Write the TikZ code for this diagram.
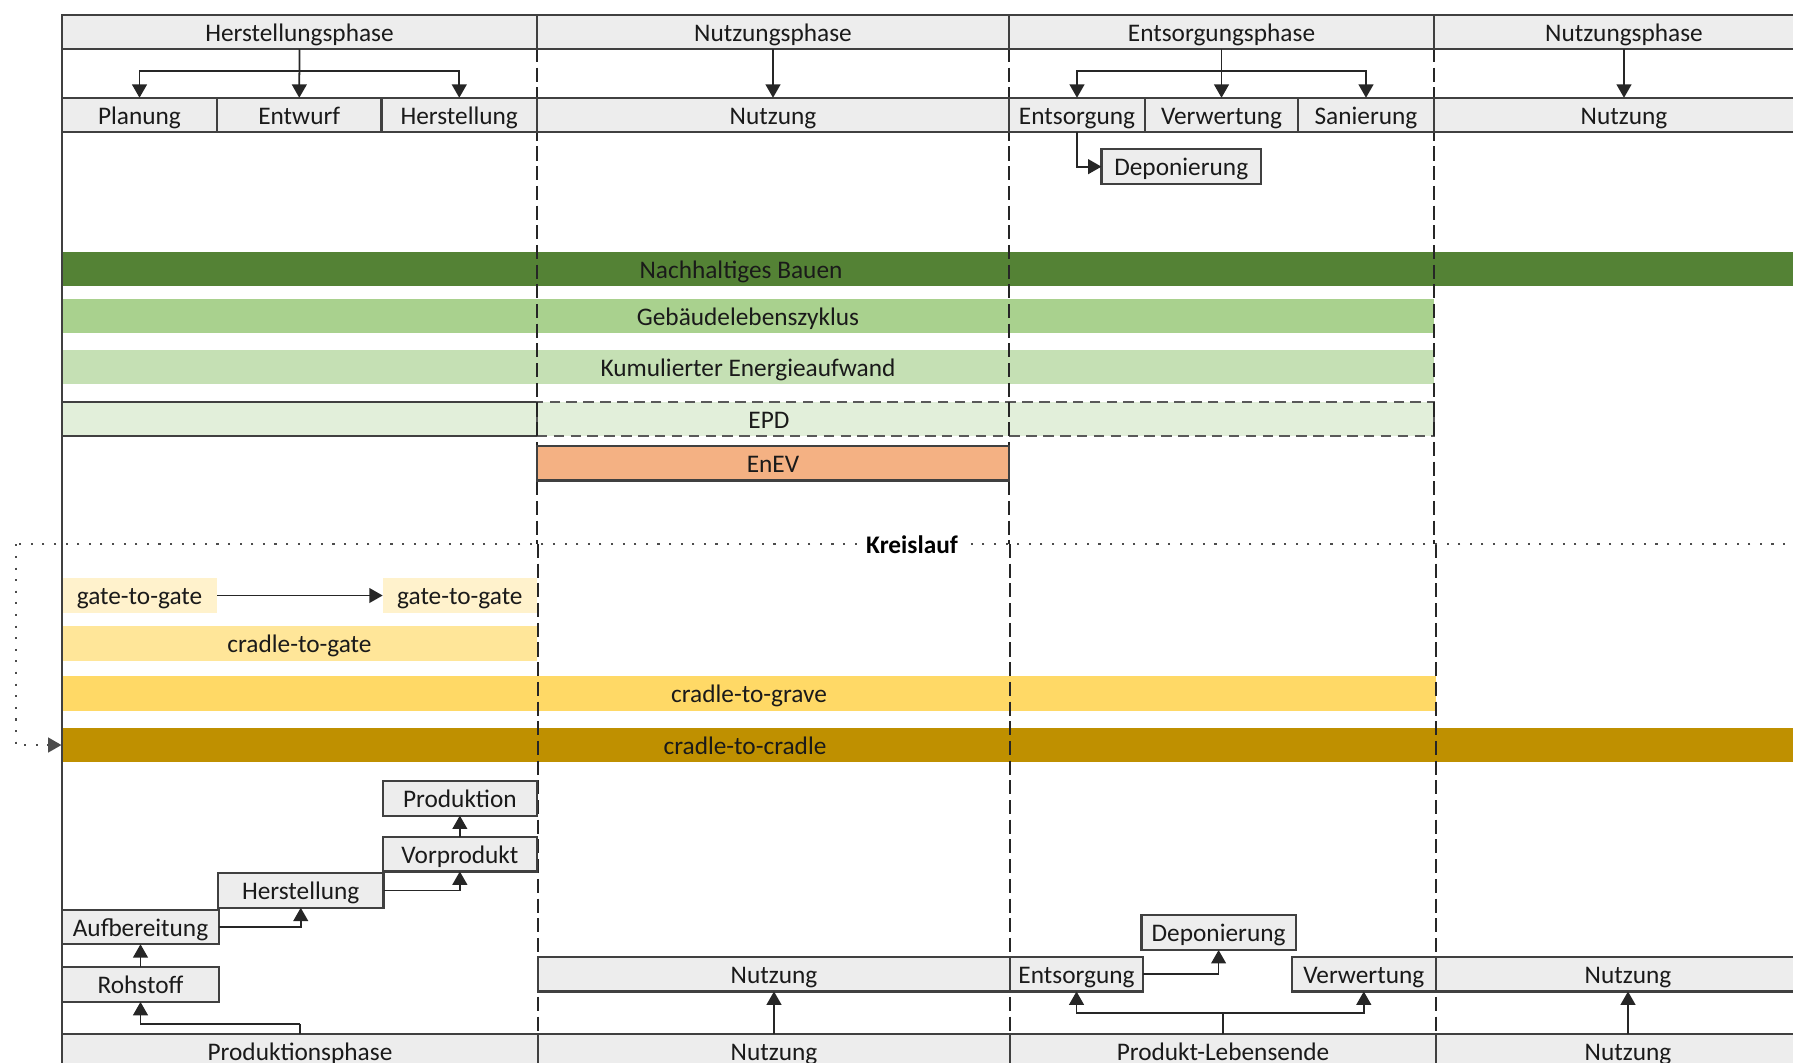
\documentclass[tikz,border=0pt]{standalone}
\usepackage{fontspec}
\setmainfont{Carlito}
\usetikzlibrary{arrows.meta,calc}
\definecolor{boxfill}{RGB}{237,237,237}
\definecolor{boxline}{RGB}{64,64,64}
\definecolor{txt}{RGB}{26,26,26}
\definecolor{nbau}{RGB}{84,130,53}
\definecolor{gebl}{RGB}{169,209,142}
\definecolor{keaf}{RGB}{197,224,180}
\definecolor{epdf}{RGB}{226,239,218}
\definecolor{enevf}{RGB}{244,177,131}
\definecolor{ggf}{RGB}{255,242,204}
\definecolor{cgf}{RGB}{255,230,153}
\definecolor{cgrf}{RGB}{255,217,102}
\definecolor{ccf}{RGB}{191,144,0}
\newcommand\mkbox[7][]{%
  \pgfmathsetmacro\mkbw{(#5-#3)/100}%
  \pgfmathsetmacro\mkbh{(#6-#4)/100}%
  \node[#1, minimum width=\mkbw cm, minimum height=\mkbh cm] (#2) at ({(#3+#5)/2},{(#4+#6)/2}) {#7};}
\tikzset{
  base/.style={inner sep=0pt, outer sep=0pt, text=txt, font=\fontsize{7.2}{8.6}\selectfont, text height=0.75em, text depth=0.23em},
  gbox/.style={base, draw=boxline, fill=boxfill, line width=0.6pt},
  barbox/.style={base, draw=none},
  arr/.style={draw=black!85, line width=0.5pt, -{Triangle[length=3.8pt,width=4.2pt]}},
  coldash/.style={draw=black!85, line width=0.6pt, dash pattern=on 4pt off 1.6pt},
  kdots/.style={draw=black!70, line width=0.6pt, dash pattern=on 0.6pt off 2.7pt},
}
\begin{document}
\begin{tikzpicture}[x=0.01cm,y=-0.01cm]
\useasboundingbox (0,0) rectangle (1793,1062);
% ---------- bars ----------
\mkbox[barbox,fill=nbau]{bauen}{62}{253.3}{1900}{285}{}
\node[base] (bauenT) at (741,269.2) {Nachhaltiges Bauen};
\mkbox[barbox,fill=gebl]{geb}{62}{300}{1434}{332.3}{Gebäudelebenszyklus}
\mkbox[barbox,fill=keaf]{kea}{62}{350.7}{1434}{383.3}{Kumulierter Energieaufwand}
\mkbox[barbox,fill=epdf,draw=boxline,line width=0.6pt]{epdL}{62}{402.3}{537}{435.7}{}
\mkbox[barbox,fill=epdf,draw=black!65,line width=0.6pt,dash pattern=on 3pt off 1.8pt]{epdR}{537}{402.3}{1434}{435.7}{}
\node[base] (epdT) at (769,419) {EPD};
\mkbox[barbox,fill=ggf]{gtgA}{62}{579.3}{217}{611.7}{gate-to-gate}
\mkbox[barbox,fill=ggf]{gtgB}{382.7}{579.3}{537}{611.7}{gate-to-gate}
\mkbox[barbox,fill=cgf]{ctgate}{62}{627.3}{537}{659.3}{cradle-to-gate}
\mkbox[barbox,fill=cgrf]{ctgrave}{62}{677.3}{1436}{710}{cradle-to-grave}
\mkbox[barbox,fill=ccf]{ctc}{62}{729.3}{1900}{760.7}{}
\node[base] (ctcT) at (745,745) {cradle-to-cradle};
% ---------- column lines ----------
\coordinate (cA1) at (537,48); \coordinate (cA2) at (537,544);
\coordinate (cB1) at (1009,48); \coordinate (cB2) at (1009,544);
\coordinate (cC1) at (1434,48); \coordinate (cC2) at (1434,544);
\coordinate (dA1) at (538,544); \coordinate (dA2) at (538,1062);
\coordinate (dB1) at (1010,544); \coordinate (dB2) at (1010,1062);
\coordinate (dC1) at (1436,544); \coordinate (dC2) at (1436,1062);
\draw[coldash] (cA1) -- (cA2); \draw[coldash] (cB1) -- (cB2); \draw[coldash] (cC1) -- (cC2);
\draw[coldash] (dA1) -- (dA2); \draw[coldash] (dB1) -- (dB2); \draw[coldash] (dC1) -- (dC2);
\coordinate (lt) at (62,15); \coordinate (lb) at (62,1062);
\draw[draw=boxline, line width=0.6pt] (lt) -- (lb);
% ---------- EnEV ----------
\mkbox[base,fill=enevf,draw=boxline,line width=0.6pt]{enev}{537}{447.3}{1009}{479.3}{EnEV}
% ---------- Kreislauf ----------
\coordinate (kR) at (1820,544.3);
\coordinate (kL) at (16,544.3);
\draw[kdots] (kR) -- (kL);
\draw[kdots,-{Triangle[length=3.8pt,width=4.2pt]}] (kL) |- (ctc.west);
\node[base, fill=white, inner xsep=1.5pt, inner ysep=1pt, font=\fontsize{7.2}{8.6}\selectfont\bfseries, text=black] (kreis) at (912,544.3) {Kreislauf};
\draw[arr] (gtgA.east) -- (gtgB.west);
% ---------- top header ----------
\mkbox[gbox]{hp}{62}{15.7}{537}{48.3}{Herstellungsphase}
\mkbox[gbox]{np}{537}{15.7}{1009}{48.3}{Nutzungsphase}
\mkbox[gbox]{ep}{1009}{15.7}{1434}{48.3}{Entsorgungsphase}
\mkbox[gbox]{npr}{1434}{15.7}{1814}{48.3}{Nutzungsphase}
\mkbox[gbox]{plan}{62}{98.3}{217}{131.7}{Planung}
\mkbox[gbox]{entw}{217}{98.3}{381.5}{131.7}{Entwurf}
\mkbox[gbox]{herst}{381.5}{98.3}{537}{131.7}{Herstellung}
\mkbox[gbox]{nutz}{537}{98.3}{1009}{131.7}{Nutzung}
\mkbox[gbox]{ents}{1009}{98.3}{1145}{131.7}{Entsorgung}
\mkbox[gbox]{verw}{1145}{98.3}{1298}{131.7}{Verwertung}
\mkbox[gbox]{san}{1298}{98.3}{1434}{131.7}{Sanierung}
\mkbox[gbox]{nutzr}{1434}{98.3}{1814}{131.7}{Nutzung}
\mkbox[gbox]{depo}{1101.5}{150}{1261}{183.3}{Deponierung}
\coordinate (jA) at (299.5,71);
\coordinate (jB) at (1221.5,71);
\draw[arr] (hp.south) -- (entw.north);
\draw[arr] (jA) -| (plan.north);
\draw[arr] (jA) -| (herst.north);
\draw[arr] (np.south) -- (nutz.north);
\draw[arr] (ep.south) -- (verw.north);
\draw[arr] (jB) -| (ents.north);
\draw[arr] (jB) -| (san.north);
\draw[arr] (npr.south) -- (nutzr.north);
\draw[arr] (ents.south) |- (depo.west);
% ---------- bottom ----------
\mkbox[gbox]{prod}{382.7}{781.7}{537}{815}{Produktion}
\mkbox[gbox]{vorp}{382.7}{837.7}{537}{870.7}{Vorprodukt}
\mkbox[gbox]{herstB}{218}{874.3}{383.5}{906.7}{Herstellung}
\mkbox[gbox]{aufb}{62}{910.7}{219}{943.3}{Aufbereitung}
\mkbox[gbox]{roh}{62}{968.3}{219}{1001}{Rohstoff}
\mkbox[gbox]{nutzB}{538}{957.7}{1010}{990.7}{Nutzung}
\mkbox[gbox]{entsB}{1010}{957.7}{1143}{990.7}{Entsorgung}
\mkbox[gbox]{depoB}{1141.5}{915}{1295.7}{950}{Deponierung}
\mkbox[gbox]{verwB}{1291.6}{957.7}{1436}{990.7}{Verwertung}
\mkbox[gbox]{nutzBr}{1436}{957.7}{1820}{990.7}{Nutzung}
\mkbox[gbox]{prph}{62}{1035}{538}{1068}{Produktionsphase}
\mkbox[gbox]{nutzP}{538}{1035}{1010}{1068}{Nutzung}
\mkbox[gbox]{leb}{1010}{1035}{1436}{1068}{Produkt-Lebensende}
\mkbox[gbox]{nutzPr}{1436}{1035}{1820}{1068}{Nutzung}
\draw[arr] (vorp.north) -- (prod.south);
\draw[arr] (herstB.east) -| (vorp.south);
\draw[arr] (aufb.east) -| (herstB.south);
\draw[arr] (roh.north) -- (aufb.south);
\coordinate (jC) at (300,1024);
\draw[draw=black!85, line width=0.5pt] (prph.north) -- (jC);
\draw[arr] (jC) -| (roh.south);
\draw[arr] (nutzP.north) -- (nutzB.south);
\draw[arr] (nutzPr.north) -- (nutzBr.south);
\coordinate (jD) at (1223,1012.7);
\draw[draw=black!85, line width=0.5pt] (leb.north) -- (jD);
\draw[arr] (jD) -| (entsB.south);
\draw[arr] (jD) -| (verwB.south);
\draw[arr] (entsB.east) -| (depoB.south);
\end{tikzpicture}
\end{document}
